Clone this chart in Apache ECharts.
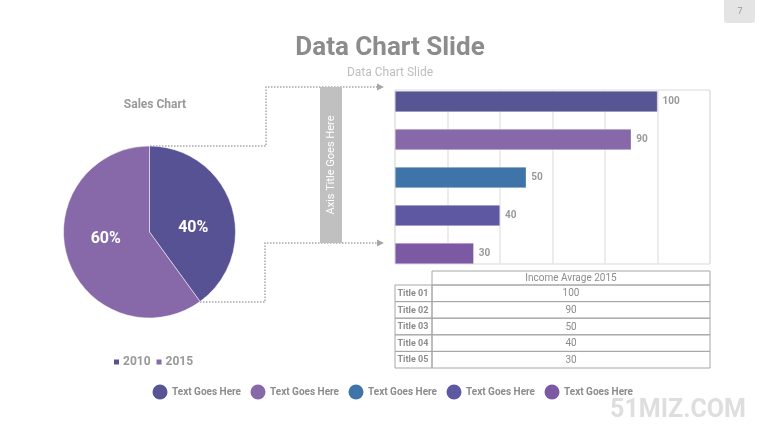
<!DOCTYPE html>
<html>
<head>
<meta charset="utf-8">
<script src="https://cdn.jsdelivr.net/npm/echarts@6/dist/echarts.min.js"></script>
<style>
  html, body { margin: 0; padding: 0; background: #fff; }
  #main { width: 780px; height: 439px; }
</style>
</head>
<body>
<div id="main"></div>
<script>
  // pie data
  const pieNames = ['2010', '2015']
  const pieValues = [40, 60]
  const pieColors = ['#575294', '#8769aa']

  // bar / table data
  const barTitles = ['Title 01', 'Title 02', 'Title 03', 'Title 04', 'Title 05']
  const barValues = [100, 90, 50, 40, 30]
  const barColors = ['#585595', '#8769aa', '#3f74a8', '#5e58a2', '#7b59a3']
  const tableHeader = 'Income Avrage 2015'

  // bottom legend
  const legendTexts = ['Text Goes Here', 'Text Goes Here', 'Text Goes Here', 'Text Goes Here', 'Text Goes Here']

  const FONT = 'Roboto, sans-serif'
  const gray = '#8c8c8c'

  const graphics = []

  // page number tab
  graphics.push({
    type: 'rect', shape: { x: 724, y: -4, width: 31, height: 27, r: 3 },
    style: { fill: '#e4e4e4' }
  })
  graphics.push({
    type: 'text', x: 740, y: 12,
    style: { text: '7', font: '9px Roboto', fill: '#999', align: 'center', verticalAlign: 'middle' }
  })

  // connectors
  const dotted = { stroke: '#a6a6a6', lineWidth: 1.5, lineDash: [1.5, 1.5], fill: null }
  graphics.push({ type: 'polyline', shape: { points: [[150, 146], [266, 146], [266, 87], [378, 87]] }, style: dotted })
  graphics.push({ type: 'polyline', shape: { points: [[200, 302], [265, 302], [265, 243], [378, 243]] }, style: dotted })
  graphics.push({ type: 'polygon', shape: { points: [[377, 83.5], [384, 87], [377, 90.5]] }, style: { fill: '#a6a6a6' } })
  graphics.push({ type: 'polygon', shape: { points: [[377, 239.5], [384, 243], [377, 246.5]] }, style: { fill: '#a6a6a6' } })

  // axis title band
  graphics.push({ type: 'rect', shape: { x: 320, y: 87, width: 22, height: 156 }, style: { fill: '#c0c0c0' } })
  graphics.push({
    type: 'text', x: 331, y: 165, rotation: Math.PI / 2,
    style: { text: 'Axis Title Goes Here', font: '11px ' + FONT, fill: '#fff', align: 'center', verticalAlign: 'middle' }
  })

  // table built from barTitles / barValues
  const tLeft = 395, tSep = 432, tRight = 710, tTop = 271, headH = 14, rowH = 16.6
  const border = { stroke: '#a6a6a6', lineWidth: 1, fill: null }
  graphics.push({ type: 'rect', shape: { x: tSep, y: tTop, width: tRight - tSep, height: headH }, style: border })
  graphics.push({
    type: 'text', x: (tSep + tRight) / 2, y: tTop + headH / 2 + 0.5,
    style: { text: tableHeader, font: '10px ' + FONT, fill: gray, align: 'center', verticalAlign: 'middle' }
  })
  barTitles.forEach((t, i) => {
    const y = tTop + headH + i * rowH
    graphics.push({ type: 'rect', shape: { x: tLeft, y: y, width: tSep - tLeft, height: rowH }, style: border })
    graphics.push({ type: 'rect', shape: { x: tSep, y: y, width: tRight - tSep, height: rowH }, style: border })
    graphics.push({
      type: 'text', x: tLeft + 2.5, y: y + rowH / 2 + 0.5,
      style: { text: t, font: 'bold 9px ' + FONT, fill: gray, align: 'left', verticalAlign: 'middle' }
    })
    graphics.push({
      type: 'text', x: (tSep + tRight) / 2, y: y + rowH / 2 + 0.5,
      style: { text: String(barValues[i]), font: '10px ' + FONT, fill: gray, align: 'center', verticalAlign: 'middle' }
    })
  })

  // bottom legend
  legendTexts.forEach((t, i) => {
    const cx = 160 + i * 98
    graphics.push({ type: 'circle', shape: { cx: cx, cy: 392, r: 7.5 }, style: { fill: barColors[i] } })
    graphics.push({
      type: 'text', x: cx + 12, y: 392.5,
      style: { text: t, font: 'bold 10px ' + FONT, fill: gray, align: 'left', verticalAlign: 'middle' }
    })
  })

  // watermark
  graphics.push({
    type: 'text', x: 678, y: 411,
    style: { text: '51MIZ.COM', font: 'bold 25px Roboto', fill: '#dedede', align: 'center', verticalAlign: 'middle' }
  })

  const option = {
    backgroundColor: '#fff',
    animation: false,
    title: [
      {
        text: 'Data Chart Slide', left: 'center', top: 30,
        textStyle: { fontFamily: FONT, fontSize: 26, fontWeight: 'bold', color: '#8c8c8c' }
      },
      {
        text: 'Data Chart Slide', left: 'center', top: 62,
        textStyle: { fontFamily: FONT, fontSize: 12, fontWeight: 'normal', color: '#bdbdbd' }
      },
      {
        text: 'Sales Chart', left: 150, top: 94, textAlign: 'center',
        textStyle: { fontFamily: FONT, fontSize: 12, fontWeight: 'bold', color: '#999' }
      }
    ],
    legend: {
      data: pieNames,
      left: 107, top: 351,
      icon: 'rect', itemWidth: 7, itemHeight: 7, itemGap: 4,
      textStyle: { fontFamily: FONT, fontSize: 12, fontWeight: 'bold', color: '#999', padding: [0, 0, 0, -2] }
    },
    grid: [
      { left: 395, top: 90, width: 315, height: 174, show: true, borderColor: '#d9d9d9', borderWidth: 1 },
      { left: 395, top: 82.5, width: 315, height: 190 }
    ],
    xAxis: [
      {
        gridIndex: 0, type: 'value', min: 0, max: 120, interval: 20,
        axisLine: { show: false }, axisTick: { show: false }, axisLabel: { show: false },
        splitLine: { lineStyle: { color: '#e6e6e6', width: 1.5 } }
      },
      {
        gridIndex: 1, type: 'value', min: 0, max: 120,
        show: false
      }
    ],
    yAxis: [
      { gridIndex: 0, type: 'value', show: false },
      { gridIndex: 1, type: 'category', data: barTitles, inverse: true, show: false }
    ],
    series: [
      {
        type: 'pie',
        center: [149.5, 232], radius: 86,
        startAngle: 90, clockwise: true,
        label: {
          position: 'inside', formatter: '{d}%',
          fontFamily: FONT, fontSize: 16, fontWeight: 'bold', color: '#fff'
        },
        labelLayout: function (p) {
          return p.dataIndex === 0 ? { dy: 10 } : { dy: -7 }
        },
        labelLine: { show: false },
        itemStyle: { borderColor: '#fff', borderWidth: 0.5 },
        data: pieNames.map((n, i) => ({ name: n, value: pieValues[i], itemStyle: { color: pieColors[i] } }))
      },
      {
        type: 'bar',
        xAxisIndex: 1, yAxisIndex: 1,
        barWidth: 21,
        data: barValues.map((v, i) => ({ value: v, itemStyle: { color: barColors[i] } })),
        itemStyle: { borderColor: 'rgba(255,255,255,0.6)', borderWidth: 0.5 },
        label: {
          show: true, position: 'right', distance: 5,
          fontFamily: FONT, fontSize: 10, fontWeight: 'bold', color: '#999'
        }
      }
    ],
    graphic: graphics
  }

  const myChart = echarts.init(document.getElementById('main'))
  myChart.setOption(option)
</script>
</body>
</html>
